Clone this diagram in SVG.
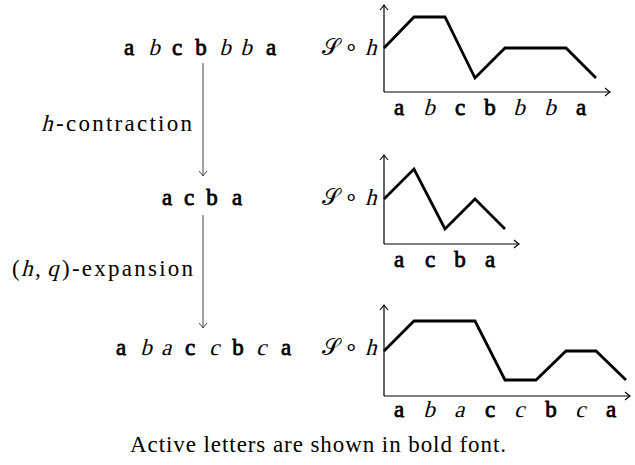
<svg xmlns="http://www.w3.org/2000/svg" width="635" height="465" viewBox="0 0 635 465">
<style>
.f{font-family:"Liberation Serif",serif;font-size:23px;fill:#000}
.b{stroke:#000;stroke-width:0.8;stroke-linejoin:round}
.m{text-anchor:middle}
.axis{stroke:#000;stroke-width:1.2;fill:none}
.curve{stroke:#000;stroke-width:2.8;fill:none;stroke-linejoin:miter;stroke-linecap:butt}
.conn{stroke:#444;stroke-width:1;fill:none}
</style>
<defs>
<marker id="ah" viewBox="-7 -6 9 12" refX="0" refY="0" markerWidth="9" markerHeight="12" orient="auto" markerUnits="userSpaceOnUse">
<path d="M-5,-4 Q-1.5,-1 0,0 Q-1.5,1 -5,4" fill="none" stroke="#000" stroke-width="1.1"/>
</marker>
<marker id="ahg" viewBox="-7 -6 9 12" refX="0" refY="0" markerWidth="9" markerHeight="12" orient="auto" markerUnits="userSpaceOnUse">
<path d="M-5,-4 Q-1.5,-1 0,0 Q-1.5,1 -5,4" fill="none" stroke="#444" stroke-width="1"/>
</marker>
</defs>

<g id="connectors">
<line class="conn" x1="203" y1="63" x2="203" y2="176" marker-end="url(#ahg)"/>
<line class="conn" x1="203" y1="215" x2="203" y2="328" marker-end="url(#ahg)"/>
</g>

<g id="label-contraction">
<text class="f" transform="translate(41,131) skewX(-15)">h</text>
<text class="f" x="56" y="131" textLength="136" lengthAdjust="spacing">-contraction</text>
</g>
<g id="label-expansion">
<text class="f" x="12" y="276">(</text>
<text class="f" transform="translate(21,276) skewX(-15)">h</text>
<text class="f" x="35" y="276">,</text>
<text class="f" transform="translate(47,276) skewX(-15)">q</text>
<text class="f" x="62" y="276" textLength="131" lengthAdjust="spacing">)-expansion</text>
</g>

<g id="word1">
<text class="f m b" x="129" y="55">a</text>
<text class="f m" transform="translate(154,55) skewX(-15)">b</text>
<text class="f m b" x="177" y="55">c</text>
<text class="f m b" x="201" y="55">b</text>
<text class="f m" transform="translate(225,55) skewX(-15)">b</text>
<text class="f m" transform="translate(246,55) skewX(-15)">b</text>
<text class="f m b" x="271" y="55">a</text>
<text class="f" x="322" y="55">𝒮</text>
<text class="f m" x="351" y="55">∘</text>
<text class="f" transform="translate(365,55) skewX(-15)">h</text>
</g>

<g id="word2">
<text class="f m b" x="167" y="205">a</text>
<text class="f m b" x="189" y="205">c</text>
<text class="f m b" x="212" y="205">b</text>
<text class="f m b" x="237" y="205">a</text>
<text class="f" x="322" y="205">𝒮</text>
<text class="f m" x="351" y="205">∘</text>
<text class="f" transform="translate(365,205) skewX(-15)">h</text>
</g>

<g id="word3">
<text class="f m b" x="121" y="355">a</text>
<text class="f m" transform="translate(146,355) skewX(-15)">b</text>
<text class="f m" transform="translate(166,355) skewX(-15)">a</text>
<text class="f m b" x="190" y="355">c</text>
<text class="f m" transform="translate(214,355) skewX(-15)">c</text>
<text class="f m b" x="238" y="355">b</text>
<text class="f m" transform="translate(261,355) skewX(-15)">c</text>
<text class="f m b" x="286" y="355">a</text>
<text class="f" x="322" y="355">𝒮</text>
<text class="f m" x="351" y="355">∘</text>
<text class="f" transform="translate(365,355) skewX(-15)">h</text>
</g>

<g id="graph1">
<line class="axis" x1="384" y1="92" x2="384" y2="5" marker-end="url(#ah)"/>
<line class="axis" x1="384" y1="92" x2="610" y2="92" marker-end="url(#ah)"/>
<polyline class="curve" points="384,48 414,17 445,17 475,78 505,48 535,48 566,48 596,78"/>
<text class="f m b" x="399" y="115">a</text>
<text class="f m" transform="translate(429,115) skewX(-15)">b</text>
<text class="f m b" x="460" y="115">c</text>
<text class="f m b" x="490" y="115">b</text>
<text class="f m" transform="translate(519,115) skewX(-15)">b</text>
<text class="f m" transform="translate(550,115) skewX(-15)">b</text>
<text class="f m b" x="581" y="115">a</text>
</g>

<g id="graph2">
<line class="axis" x1="384" y1="244" x2="384" y2="155" marker-end="url(#ah)"/>
<line class="axis" x1="384" y1="244" x2="519" y2="244" marker-end="url(#ah)"/>
<polyline class="curve" points="384,199 414,169 445,229 475,199 505,229"/>
<text class="f m b" x="399" y="267">a</text>
<text class="f m b" x="430" y="267">c</text>
<text class="f m b" x="460" y="267">b</text>
<text class="f m b" x="490" y="267">a</text>
</g>

<g id="graph3">
<line class="axis" x1="384" y1="396" x2="384" y2="305" marker-end="url(#ah)"/>
<line class="axis" x1="384" y1="396" x2="630" y2="396" marker-end="url(#ah)"/>
<polyline class="curve" points="384,351 414,321 445,321 475,321 505,380 536,380 566,351 596,351 626,380"/>
<text class="f m b" x="399" y="417">a</text>
<text class="f m" transform="translate(429,417) skewX(-15)">b</text>
<text class="f m" transform="translate(459,417) skewX(-15)">a</text>
<text class="f m b" x="490" y="417">c</text>
<text class="f m" transform="translate(519,417) skewX(-15)">c</text>
<text class="f m b" x="551" y="417">b</text>
<text class="f m" transform="translate(580,417) skewX(-15)">c</text>
<text class="f m b" x="611" y="417">a</text>
</g>

<g id="caption">
<text class="f" x="130" y="452" textLength="376" lengthAdjust="spacing">Active letters are shown in bold font.</text>
</g>
</svg>
